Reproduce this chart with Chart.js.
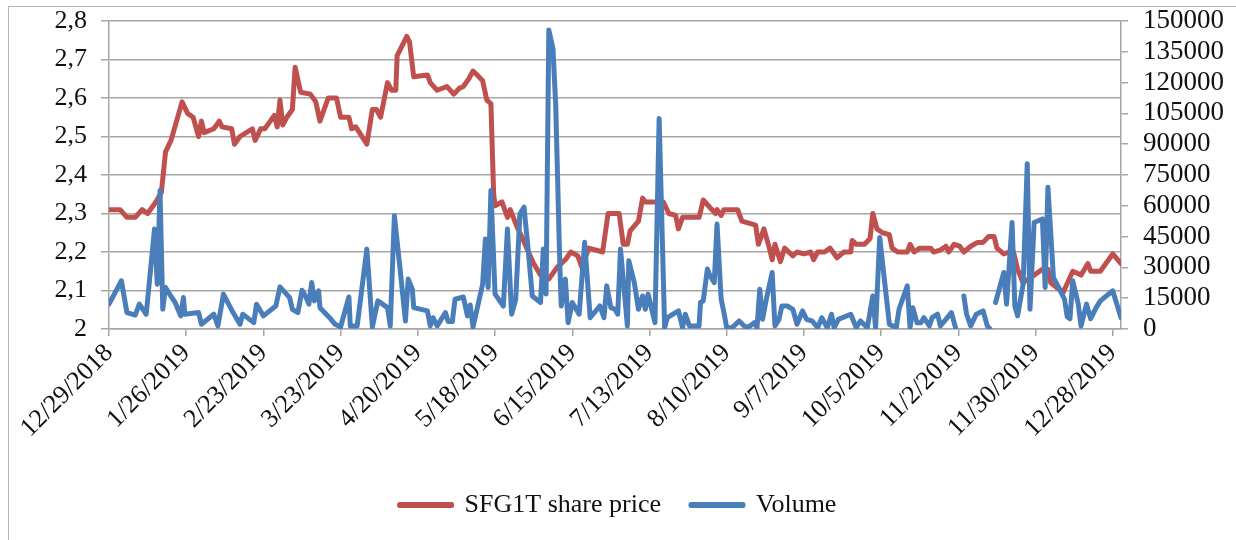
<!doctype html>
<html lang="en">
<head>
  <meta charset="utf-8">
  <title>SFG1T share price and volume</title>
  <style>
    body {
      margin: 0;
      background: #fff;
    }
    #frame {
      position: absolute;
      left: 8px;
      top: 6px;
      width: 1260px;
      height: 560px;
      border: 1px solid #b4b4b4;
    }
    #chart {
      position: absolute;
      left: 0;
      top: 0;
    }
  </style>
</head>
<body>
  <div id="frame"></div>
  <canvas id="chart" width="1236" height="540"></canvas>

  <script src="https://cdn.jsdelivr.net/npm/chart.js@4.4.0/dist/chart.umd.min.js"></script>
  <script>
    // days counted from 12/29/2018
    const priceDay = [0,4,6.5,9.5,12,14,17,19,20.5,22.5,
      26.5,28.5,30.5,32.5,33.5,34.5,38,40,41,44.5,
      45.5,47.5,52,53,55,56.5,58.5,60,61,62,
      63,64.5,66.5,67.5,69.5,73,75,76.5,79.5,82.5,
      84,87,88,89.5,93.5,95.5,97,98.5,101,102.5,
      104,104.5,108,109,110.5,115.5,116.5,119,122.5,125,
      127,128.5,130.5,132,133.5,135.5,137,138.5,139.5,140,
      142.5,144.5,145.5,148,150,151.5,154,156.5,159.5,162.5,
      165.5,167.5,170,171.5,174,179,181,185,186.5,188,
      189,192,193.5,194.5,201,203,205.5,206.5,208,214,
      215.5,218,220,220.5,222,223,228,229.5,234.5,235.5,
      237.5,239.5,240.5,241.5,243.5,245,248,249.5,252,254.5,
      255.5,257,259.5,261.5,264,266.5,269,269.5,271,274,
      276,277,278.5,280.5,283,284,286,289.5,290.5,292,
      294,298,299,301.5,303.5,304.5,306.5,308.5,310,312.5,
      315,317,319,321,322,324.5,326.5,328,329.5,331.5,
      335.5,338.5,340.5,341.5,346,349.5,352.5,355,356,359.5,
      364,367];

    const price = [2.31,2.31,2.29,2.29,2.31,2.30,2.33,2.355,2.46,2.49,
      2.59,2.56,2.55,2.50,2.54,2.51,2.52,2.54,2.525,2.52,
      2.48,2.50,2.52,2.49,2.52,2.52,2.54,2.555,2.525,2.595,
      2.53,2.55,2.57,2.68,2.615,2.61,2.59,2.54,2.60,2.60,
      2.55,2.55,2.52,2.525,2.48,2.57,2.57,2.55,2.64,2.62,
      2.62,2.71,2.76,2.745,2.655,2.66,2.64,2.62,2.63,2.61,
      2.625,2.63,2.65,2.67,2.66,2.645,2.595,2.585,2.35,2.32,
      2.33,2.29,2.31,2.265,2.235,2.21,2.17,2.14,2.13,2.16,
      2.18,2.20,2.19,2.16,2.21,2.20,2.30,2.30,2.22,2.22,
      2.255,2.28,2.34,2.33,2.33,2.30,2.295,2.26,2.29,2.29,
      2.335,2.315,2.30,2.31,2.295,2.31,2.31,2.28,2.27,2.22,
      2.26,2.21,2.18,2.22,2.175,2.21,2.19,2.20,2.195,2.20,
      2.18,2.20,2.20,2.21,2.185,2.20,2.20,2.23,2.22,2.22,
      2.235,2.30,2.26,2.25,2.245,2.21,2.20,2.20,2.22,2.20,
      2.21,2.21,2.20,2.205,2.215,2.20,2.22,2.215,2.20,2.215,
      2.225,2.225,2.24,2.24,2.21,2.195,2.20,2.20,2.155,2.12,
      2.14,2.155,2.155,2.12,2.095,2.15,2.14,2.17,2.15,2.15,
      2.195,2.17];

    const volumeDay = [0,4.5,6.5,9.5,11,13.5,16.5,17.5,18.5,19.5,
      20.5,22,24,26,27,27.5,32.5,33.5,38,39.5,
      41.5,45,47.5,48.5,52.5,53.5,56,60.5,62,65.5,
      66.5,68.5,70,71.5,72.5,73.5,74.5,76,76.5,80,
      82,84,87,87.5,90,93.5,95.5,97.5,101,102,
      103.5,105.5,107.5,108.5,110,110.5,115.5,116.5,117.5,119,
      122,123,124.5,125.5,128.5,130,131,132,135.5,136.5,
      137.5,138.5,140,143,144.5,146,147.5,149,150.5,152,
      153.5,156.5,157.5,158.5,159.5,161,162,163.5,164,165.5,
      166.5,168,170.5,172.5,174.5,178,179.5,180.5,182,183.5,
      184.5,185.5,188,188.5,190.5,192,193.5,194.5,195.5,198,
      199.5,201.5,202.5,206.5,208,209,210.5,214,214.5,215.5,
      217,218,219.5,220.5,222,223,224,226,228.5,231,
      232.5,234,235,236,237,238.5,240.5,241.5,243,244,
      246,248,249.5,251.5,253,255,257,258.5,260.5,262,
      263,264.5,269,271,272.5,275,277,278,279.5,283,
      285.5,286.5,289.5,290.5,291.5,293,294.5,295.5,297.5,298.5,
      300.5,301.5,303.5,305.5,307,308.5,310,311,312.5,314.5,
      317,318.5,319.5,320.5,321.5,324.5,325.5,327.5,328.5,329.5,
      331.5,333,334,335.5,338.5,339.5,340.5,342.5,344.5,346.5,
      347.5,348.5,349.5,351.5,352.5,354.5,356,358,359.5,364,
      367];

    const volume = [12100,23500,8000,6800,12100,7200,48700,21800,67400,9600,
      20200,17000,12900,6400,15300,7200,8000,2300,7200,1500,
      17000,8000,2300,7200,3100,12100,6400,11200,20500,15300,
      9600,8000,18900,15300,12100,22600,13700,18600,10400,5500,
      2300,1000,15600,1500,1500,38900,1000,13700,10400,1500,
      55200,30000,3900,24300,19400,10400,8800,1500,5500,1500,
      8000,3600,3600,14500,15600,6400,11700,1000,21800,43800,
      20200,67400,17000,11200,48700,7200,14500,56000,59300,38900,
      16100,12900,38900,17000,145600,136600,109000,30800,11200,24300,
      3100,12900,7200,42200,5500,11200,5500,21000,10400,9600,
      7200,38900,1500,33200,22600,9600,16100,9600,17000,3100,
      102500,650,5500,8800,650,7200,1500,1500,12900,13700,
      29200,25900,22600,51100,14500,8000,650,650,3900,650,
      1500,3100,650,19400,4700,15300,27500,1500,4700,11200,
      11200,9600,2300,8800,4700,3900,650,5500,650,7200,
      650,4700,7200,650,3900,650,16100,650,44600,2300,
      650,9600,21000,650,10400,3100,3100,5500,1500,5500,
      7200,1500,4700,8000,650,null,16100,7200,1500,7200,
      8800,1500,0,null,12900,27500,12100,51900,11200,6400,
      21800,80500,9600,51900,53600,20200,69000,25000,20000,14500,
      6000,5000,23500,12100,1500,12100,5000,10400,13700,18600,
      5500];

    const priceTicks = [2, 2.1, 2.2, 2.3, 2.4, 2.5, 2.6, 2.7, 2.8];
    const volumeTicks = [0, 15000, 30000, 45000, 60000, 75000, 90000, 105000, 120000, 135000, 150000];

    const gridColor = '#a6a6a6';

    function dayLabel(v) {
      const d = new Date(Date.UTC(2018, 11, 29 + v));
      return (d.getUTCMonth() + 1) + '/' + d.getUTCDate() + '/' + d.getUTCFullYear();
    }

    // fixed side widths, and no extra room for the end labels
    function fitSide(width) {
      return (scale) => {
        scale.width = width;
        scale.paddingTop = 0;
        scale.paddingBottom = 0;
      };
    }

    Chart.defaults.font.family = "'Liberation Serif', 'Times New Roman', serif";
    Chart.defaults.font.size = 26;
    Chart.defaults.color = '#111';

    const ctx = document.getElementById('chart').getContext('2d');
    const chart = new Chart(ctx, {
      type: 'line',
      data: {
        datasets: [{
          label: 'SFG1T share price',
          data: priceDay.map((d, i) => ({x: d, y: price[i]})),
          yAxisID: 'y',
          borderColor: '#C0504D',
          backgroundColor: '#C0504D',
          borderWidth: 5,
          pointRadius: 0,
          tension: 0,
          borderJoinStyle: 'round',
          borderCapStyle: 'round',
          order: 2
        }, {
          label: 'Volume',
          data: volumeDay.map((d, i) => ({x: d, y: volume[i]})),
          yAxisID: 'y1',
          borderColor: '#4A7EBB',
          backgroundColor: '#4A7EBB',
          borderWidth: 5,
          pointRadius: 0,
          tension: 0,
          spanGaps: false,
          borderJoinStyle: 'round',
          borderCapStyle: 'round',
          order: 1
        }]
      },
      options: {
        responsive: false,
        animation: false,
        layout: {
          padding: {top: 21, left: 0, right: 0, bottom: 12}
        },
        plugins: {
          tooltip: {enabled: false},
          legend: {
            position: 'bottom',
            labels: {
              boxWidth: 52,
              boxHeight: 1,
              padding: 30,
              color: '#111',
              sort: (a, b) => a.datasetIndex - b.datasetIndex
            }
          }
        },
        scales: {
          x: {
            type: 'linear',
            min: 0,
            max: 367,
            afterFit: (scale) => { scale.height = 133; },
            grid: {
              drawOnChartArea: false,
              drawTicks: true,
              tickLength: 7,
              color: gridColor,
              lineWidth: 1.5
            },
            border: {color: gridColor, width: 1.5},
            ticks: {
              stepSize: 28,
              includeBounds: false,
              autoSkip: false,
              maxRotation: 45,
              minRotation: 45,
              padding: 2,
              callback: (v) => dayLabel(v)
            }
          },
          y: {
            position: 'left',
            min: 2,
            max: 2.8,
            afterFit: fitSide(109),
            afterBuildTicks: (scale) => {
              scale.ticks = priceTicks.map(v => ({value: v}));
            },
            grid: {
              color: gridColor,
              lineWidth: 1.5,
              tickLength: 8
            },
            border: {color: gridColor, width: 1.5},
            ticks: {
              padding: 14,
              autoSkip: false,
              callback: (v) => {
                const r = Math.round(v * 10) / 10;
                return r === 2 ? '2' : r.toFixed(1).replace('.', ',');
              }
            }
          },
          y1: {
            position: 'right',
            min: 0,
            max: 150000,
            afterFit: fitSide(115),
            afterBuildTicks: (scale) => {
              scale.ticks = volumeTicks.map(v => ({value: v}));
            },
            grid: {
              drawOnChartArea: false,
              color: gridColor,
              lineWidth: 1.5,
              tickLength: 7
            },
            border: {color: gridColor, width: 1.5},
            ticks: {
              padding: 15,
              autoSkip: false,
              font: {size: 27},
              callback: (v) => String(v)
            }
          }
        }
      }
    });
  </script>
</body>
</html>
